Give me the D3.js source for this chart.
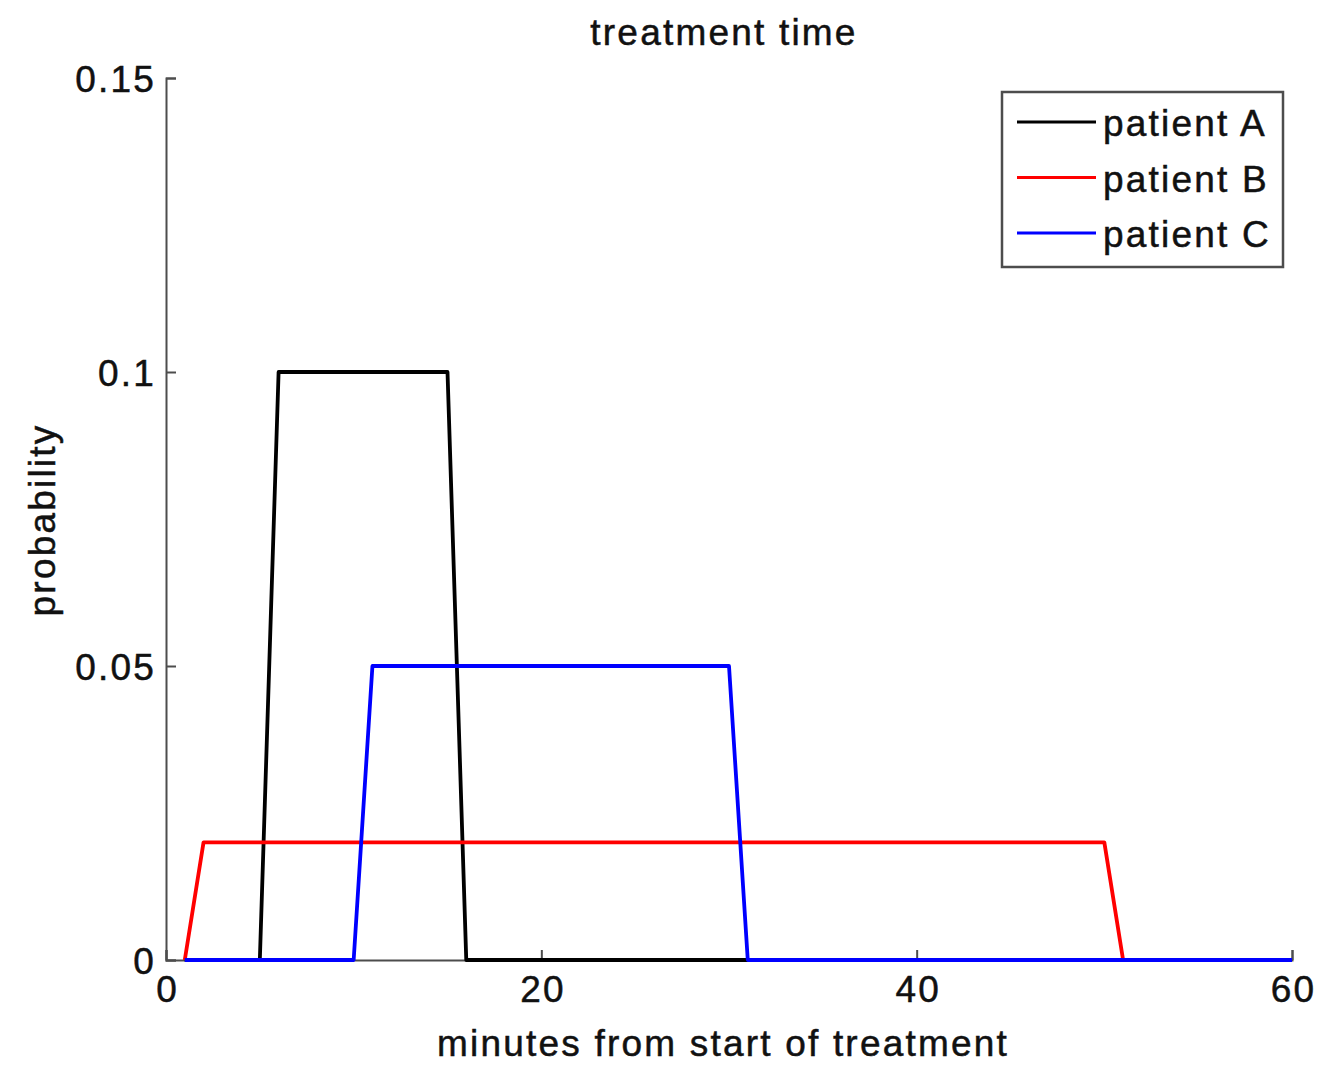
<!DOCTYPE html>
<html>
<head>
<meta charset="utf-8">
<script src="https://cdn.jsdelivr.net/npm/d3@7"></script>
<style>
  html, body { margin: 0; padding: 0; background: #fff; }
  svg { display: block; font-family: "Liberation Sans", Arial, Helvetica, sans-serif; }
</style>
</head>
<body>
<svg id="chart" width="1337" height="1066"></svg>
<script>
// Treatment-time probability profiles (minutes -> probability)
const minutesA = [1, 5, 6, 15, 16, 60];
const probA    = [0, 0, 0.1, 0.1, 0, 0];
const minutesB = [1, 2, 50, 51, 60];
const probB    = [0, 0.02, 0.02, 0, 0];
const minutesC = [1, 10, 11, 30, 31, 60];
const probC    = [0, 0, 0.05, 0.05, 0, 0];

const seriesNames  = ["patient A", "patient B", "patient C"];
const seriesColors = ["#000000", "#ff0000", "#0000ff"];
const xTicks = [0, 20, 40, 60];
const yTicks = [0, 0.05, 0.1, 0.15];

const series = [
  { name: seriesNames[0], color: seriesColors[0], pts: minutesA.map((m, i) => [m, probA[i]]) },
  { name: seriesNames[1], color: seriesColors[1], pts: minutesB.map((m, i) => [m, probB[i]]) },
  { name: seriesNames[2], color: seriesColors[2], pts: minutesC.map((m, i) => [m, probC[i]]) }
];

const svg = d3.select("#chart");
const plotLeft = 166, plotRight = 1292, plotTop = 78, plotBottom = 960;

const x = d3.scaleLinear().domain([0, 60]).range([plotLeft, plotRight]);
const y = d3.scaleLinear().domain([0, 0.15]).range([plotBottom, plotTop]);

const axisColor = "#4d4d4d";
const textColor = "#111";
const fontSize = 37;
const spacing = 2.2;

// helper for consistent text styling
function styleText(sel) {
  return sel.attr("font-size", fontSize).attr("fill", textColor)
    .attr("letter-spacing", spacing)
    .attr("stroke", textColor).attr("stroke-width", 0.5)
    .attr("font-family", "'Liberation Sans', Arial, sans-serif");
}

// Axes with inward ticks
const gx = svg.append("g").attr("transform", `translate(0,${plotBottom})`)
  .call(d3.axisBottom(x).tickValues(xTicks).tickSize(-10).tickPadding(16)
        .tickFormat(d3.format("d")));
const gy = svg.append("g").attr("transform", `translate(${plotLeft},0)`)
  .call(d3.axisLeft(y).tickValues(yTicks).tickSize(-10).tickPadding(10)
        .tickFormat(d => d === 0 ? "0" : String(d)));

[gx, gy].forEach(g => {
  g.select(".domain").attr("stroke", axisColor).attr("stroke-width", 2);
  g.selectAll(".tick line").attr("stroke", axisColor).attr("stroke-width", 2);
  styleText(g.selectAll(".tick text"));
});
gx.selectAll(".tick text").attr("dx", spacing / 2);
gy.selectAll(".tick text").attr("dy", "0.36em");

// Data lines
const line = d3.line().x(d => x(d[0])).y(d => y(d[1]));
svg.append("g").selectAll("path").data(series).join("path")
  .attr("d", d => line(d.pts))
  .attr("fill", "none")
  .attr("stroke", d => d.color)
  .attr("stroke-width", 3.8)
  .attr("stroke-linejoin", "round");

// Title and axis labels
styleText(svg.append("text").attr("x", 724).attr("y", 45).attr("text-anchor", "middle"))
  .text("treatment time");
styleText(svg.append("text").attr("x", 723).attr("y", 1056).attr("text-anchor", "middle"))
  .text("minutes from start of treatment");
styleText(svg.append("text").attr("transform", "translate(55,520) rotate(-90)")
  .attr("text-anchor", "middle"))
  .text("probability");

// Legend
const lg = svg.append("g");
lg.append("rect").attr("x", 1002).attr("y", 92).attr("width", 281).attr("height", 175)
  .attr("fill", "#fff").attr("stroke", axisColor).attr("stroke-width", 2.5);
const rows = lg.selectAll("g.row").data(series).join("g")
  .attr("transform", (d, i) => `translate(0,${122 + i * 55.5})`);
rows.append("line").attr("x1", 1017).attr("x2", 1096).attr("y1", 0).attr("y2", 0)
  .attr("stroke", d => d.color).attr("stroke-width", 3);
styleText(rows.append("text").attr("x", 1103).attr("y", 0).attr("dy", "0.38em"))
  .text(d => d.name);
</script>
</body>
</html>
